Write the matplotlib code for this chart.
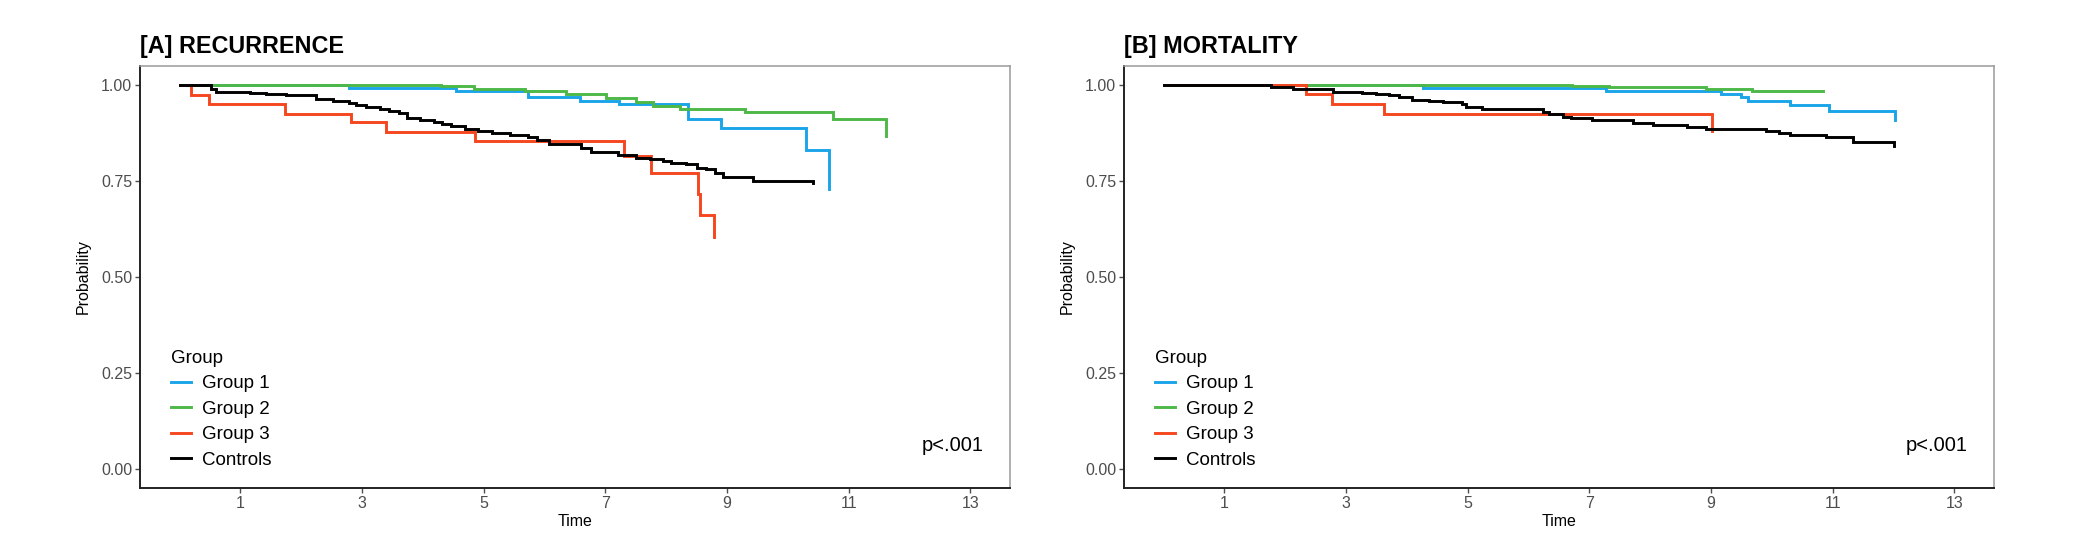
"""
Kaplan-Meier style step curves for recurrence and mortality, four groups.
Values are read off the published figure (step times and survival levels).
"""

import matplotlib
matplotlib.use("Agg")
import matplotlib.pyplot as plt

plt.rcParams["font.family"] = ["Liberation Sans", "DejaVu Sans"]

GROUPS = ["Group 1", "Group 2", "Group 3", "Controls"]
COLORS = ["#1BA5E9", "#4DB848", "#F5471F", "#000000"]

# ---- [A] recurrence -------------------------------------------------------
rec_g1_t = [0, 2.78, 4.54, 5.72, 6.58, 7.23, 8.35, 8.90, 10.29, 10.68]
rec_g1_s = [1.0, 0.993, 0.984, 0.968, 0.960, 0.950, 0.911, 0.888, 0.830, 0.729]

rec_g2_t = [0, 4.29, 4.84, 5.68, 6.36, 7.01, 7.51, 7.78, 8.22, 9.29, 10.74, 11.61]
rec_g2_s = [1.0, 0.997, 0.990, 0.986, 0.976, 0.967, 0.957, 0.945, 0.938,
            0.931, 0.913, 0.868]

rec_g3_t = [0, 0.19, 0.49, 1.73, 2.82, 3.40, 4.85, 7.30, 7.75, 8.52, 8.55, 8.78]
rec_g3_s = [1.0, 0.974, 0.951, 0.925, 0.904, 0.878, 0.855, 0.816, 0.771,
            0.716, 0.662, 0.603]

rec_ctl_t = [0, 0.52, 0.60, 1.15, 1.42, 1.75, 2.24, 2.52, 2.79, 2.90, 3.07,
             3.29, 3.45, 3.61, 3.74, 3.96, 4.18, 4.32, 4.47, 4.69, 4.91,
             5.13, 5.43, 5.72, 5.87, 6.08, 6.60, 6.77, 7.21, 7.51, 7.73,
             7.95, 8.08, 8.33, 8.50, 8.66, 8.80, 8.93, 9.43, 10.41]
rec_ctl_s = [1.0, 0.991, 0.983, 0.980, 0.976, 0.974, 0.965, 0.960, 0.954,
             0.948, 0.943, 0.939, 0.934, 0.928, 0.915, 0.910, 0.905, 0.898,
             0.893, 0.885, 0.880, 0.875, 0.870, 0.865, 0.858, 0.846, 0.837,
             0.826, 0.818, 0.811, 0.807, 0.803, 0.798, 0.794, 0.785, 0.781,
             0.772, 0.761, 0.749, 0.745]

# ---- [B] mortality --------------------------------------------------------
mor_g1_t = [0, 4.26, 7.27, 9.17, 9.49, 9.60, 10.29, 10.93, 12.03]
mor_g1_s = [1.0, 0.993, 0.986, 0.977, 0.969, 0.958, 0.948, 0.932, 0.909]

mor_g2_t = [0, 6.72, 7.33, 8.92, 9.68, 10.84]
mor_g2_s = [1.0, 0.997, 0.995, 0.991, 0.984, 0.984]

mor_g3_t = [0, 2.34, 2.77, 3.63, 9.01]
mor_g3_s = [1.0, 0.976, 0.951, 0.925, 0.880]

mor_ctl_t = [0, 1.76, 2.12, 2.78, 3.27, 3.49, 3.71, 3.87, 4.09, 4.37, 4.59,
             4.91, 4.97, 5.24, 5.90, 6.23, 6.34, 6.56, 6.70, 7.05, 7.71,
             8.04, 8.61, 8.92, 9.58, 9.90, 10.12, 10.29, 10.89, 11.33, 12.01]
mor_ctl_s = [1.0, 0.995, 0.989, 0.983, 0.980, 0.977, 0.974, 0.969, 0.962,
             0.960, 0.957, 0.950, 0.943, 0.939, 0.937, 0.931, 0.924, 0.917,
             0.914, 0.909, 0.902, 0.896, 0.892, 0.887, 0.885, 0.880, 0.876,
             0.870, 0.865, 0.853, 0.842]

X_TICKS = [1, 3, 5, 7, 9, 11, 13]
Y_TICKS = [0.0, 0.25, 0.50, 0.75, 1.0]
Y_TICK_LABELS = ["0.00", "0.25", "0.50", "0.75", "1.00"]
P_LABEL = "p<.001"

PANELS = [
    ("[A] RECURRENCE",
     [(rec_g1_t, rec_g1_s), (rec_g2_t, rec_g2_s),
      (rec_g3_t, rec_g3_s), (rec_ctl_t, rec_ctl_s)]),
    ("[B] MORTALITY",
     [(mor_g1_t, mor_g1_s), (mor_g2_t, mor_g2_s),
      (mor_g3_t, mor_g3_s), (mor_ctl_t, mor_ctl_s)]),
]

# figure geometry in pixels (2089 x 560 @ 100 dpi)
W, H = 2089, 560
AX_W, AX_H = 870, 422
AX_LEFTS = [140, 1124]
AX_BOTTOM = 72
TICK_GREY = "#4D4D4D"


def draw_panel(ax, title, curves):
    for (t, s), name, color in zip(curves, GROUPS, COLORS):
        ax.step(t, s, where="post", color=color, lw=2.1, label=name,
                solid_joinstyle="miter")

    ax.set_xlim(-0.65, 13.65)
    ax.set_ylim(-0.05, 1.05)
    ax.set_xticks(X_TICKS)
    ax.set_yticks(Y_TICKS)
    ax.set_yticklabels(Y_TICK_LABELS)
    ax.tick_params(direction="out", length=3.5, width=1.0, colors=TICK_GREY,
                   labelsize=11.5, pad=2)

    for side in ("left", "bottom"):
        ax.spines[side].set_color("#222222")
        ax.spines[side].set_linewidth(1.4)
    for side in ("top", "right"):
        ax.spines[side].set_color("#9A9A9A")
        ax.spines[side].set_linewidth(1.1)

    ax.set_xlabel("Time", fontsize=11.5)
    ax.set_ylabel("Probability", fontsize=11.5)
    ax.xaxis.set_label_coords(0.5, -0.062)
    ax.yaxis.set_label_coords(-0.057, 0.5)

    ax.text(0.0, 1.031, title, transform=ax.transAxes, fontsize=16.8,
            fontweight="bold", ha="left", va="baseline")
    ax.text(12.7, 0.062, P_LABEL, fontsize=14.5, ha="center", va="center")

    leg = ax.legend(title="Group", loc="lower left",
                    bbox_to_anchor=(0.036, 0.045), frameon=False,
                    fontsize=13.5, title_fontsize=13.5, handlelength=1.05,
                    handletextpad=0.6, labelspacing=0.45, borderpad=0,
                    borderaxespad=0)
    leg._legend_box.align = "left"


if __name__ == "__main__":
    fig = plt.figure(figsize=(W / 100, H / 100), dpi=100)
    for left, (title, curves) in zip(AX_LEFTS, PANELS):
        ax = fig.add_axes([left / W, AX_BOTTOM / H, AX_W / W, AX_H / H])
        draw_panel(ax, title, curves)
    fig.savefig("out.png", dpi=100, facecolor="white")
